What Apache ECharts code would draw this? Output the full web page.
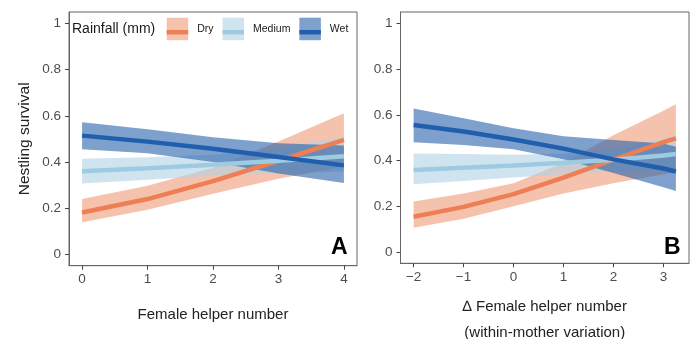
<!DOCTYPE html>
<html>
<head>
<meta charset="utf-8">
<script src="https://cdn.jsdelivr.net/npm/echarts@6/dist/echarts.min.js"></script>
<style>
  html, body { margin: 0; padding: 0; background: #fff; }
  #chart { width: 698px; height: 339px; }
</style>
</head>
<body>
<div id="chart"></div>
<script>
// Panel A: female helper number
const xA = [0, 1, 2, 3, 4];
const dryA = [0.181, 0.239, 0.317, 0.405, 0.496];
const dryLoA = [0.138, 0.193, 0.262, 0.327, 0.38];
const dryHiA = [0.239, 0.297, 0.375, 0.488, 0.611];
const medA = [0.359, 0.373, 0.388, 0.405, 0.425];
const medLoA = [0.306, 0.323, 0.34, 0.35, 0.358];
const medHiA = [0.414, 0.42, 0.431, 0.46, 0.51];
const wetA = [0.514, 0.488, 0.457, 0.421, 0.385];
const wetLoA = [0.455, 0.438, 0.40, 0.35, 0.309];
const wetHiA = [0.572, 0.542, 0.507, 0.481, 0.471];

// Panel B: delta female helper number (within-mother variation)
const xB = [-2, -1, 0, 1, 2, 3, 3.25];
const dryB = [0.154, 0.197, 0.253, 0.325, 0.404, 0.48, 0.497];
const dryLoB = [0.106, 0.145, 0.20, 0.255, 0.30, 0.34, 0.35];
const dryHiB = [0.22, 0.255, 0.30, 0.39, 0.51, 0.618, 0.646];
const medB = [0.358, 0.368, 0.378, 0.39, 0.403, 0.422, 0.428];
const medLoB = [0.296, 0.31, 0.326, 0.34, 0.352, 0.36, 0.362];
const medHiB = [0.431, 0.428, 0.425, 0.43, 0.45, 0.495, 0.509];
const wetB = [0.555, 0.527, 0.492, 0.452, 0.405, 0.365, 0.352];
const wetLoB = [0.48, 0.468, 0.449, 0.405, 0.345, 0.283, 0.267];
const wetHiB = [0.628, 0.585, 0.541, 0.506, 0.49, 0.474, 0.46];

const groups = ["Dry", "Medium", "Wet"];
const yTicks = [0, 0.2, 0.4, 0.6, 0.8, 1];
const xTicksA = [0, 1, 2, 3, 4];
const xTicksB = [-2, -1, 0, 1, 2, 3];

const lineColors = { Dry: "#EE7F55", Medium: "#9FCBE2", Wet: "#1F5FAE" };
const bandColors = {
  Dry: "rgba(238,153,118,0.6)",
  Medium: "rgba(177,210,230,0.6)",
  Wet: "rgba(40,97,170,0.6)",
};

const font = "'Liberation Sans', Arial, sans-serif";
const boxColor = "#666";

const chart = echarts.init(document.getElementById("chart"));

// ribbon drawn as one polygon from [x, lower, upper] rows
function bandSeries(name, xs, lo, hi, idx) {
  return {
    name: name,
    type: "custom",
    xAxisIndex: idx,
    yAxisIndex: idx,
    silent: true,
    encode: { x: 0, y: [1, 2] },
    data: xs.map((x, i) => [x, lo[i], hi[i]]),
    renderItem: (params, api) => {
      if (params.dataIndexInside !== 0) return null;
      const top = [];
      const bottom = [];
      for (let i = 0; i < params.dataInsideLength; i++) {
        const x = api.value(0, i);
        top.push(api.coord([x, api.value(2, i)]));
        bottom.unshift(api.coord([x, api.value(1, i)]));
      }
      return {
        type: "polygon",
        shape: { points: top.concat(bottom) },
        style: { fill: bandColors[name] },
      };
    },
  };
}

function lineSeries(name, xs, ys, idx) {
  return {
    name: name,
    type: "line",
    xAxisIndex: idx,
    yAxisIndex: idx,
    silent: true,
    showSymbol: false,
    data: xs.map((x, i) => [x, ys[i]]),
    lineStyle: { color: lineColors[name], width: 4.5 },
    itemStyle: { color: lineColors[name] },
  };
}

const panelA = {
  Dry: [dryA, dryLoA, dryHiA],
  Medium: [medA, medLoA, medHiA],
  Wet: [wetA, wetLoA, wetHiA],
};
const panelB = {
  Dry: [dryB, dryLoB, dryHiB],
  Medium: [medB, medLoB, medHiB],
  Wet: [wetB, wetLoB, wetHiB],
};

const series = [];
[[panelA, xA, 0], [panelB, xB, 1]].forEach(([panel, xs, idx]) => {
  groups.forEach((g) => {
    series.push(bandSeries(g, xs, panel[g][1], panel[g][2], idx));
    series.push(lineSeries(g, xs, panel[g][0], idx));
  });
});

const fmtNum = (v) => {
  const r = Math.round(v * 100) / 100;
  return r < 0 ? "\u2212" + Math.abs(r) : String(r);
};

function yAxis(idx, name) {
  return {
    type: "value",
    gridIndex: idx,
    min: -0.05,
    max: 1.05,
    name: name,
    nameLocation: "middle",
    nameGap: 36,
    nameTextStyle: { fontFamily: font, fontSize: 15.5, color: "#222" },
    splitLine: { show: false },
    axisLine: { show: true, onZero: false, lineStyle: { color: boxColor, width: 1 } },
    axisTick: { show: true, length: 4, customValues: yTicks, lineStyle: { color: "#444" } },
    axisLabel: {
      customValues: yTicks,
      formatter: fmtNum,
      margin: 8,
      fontFamily: font,
      fontSize: 13.5,
      color: "#4d4d4d",
    },
  };
}

function xAxis(idx, min, max, ticks, name, gap) {
  return {
    type: "value",
    gridIndex: idx,
    min: min,
    max: max,
    name: name,
    nameLocation: "middle",
    nameGap: gap,
    nameTextStyle: { fontFamily: font, fontSize: 15, color: "#222", lineHeight: 26 },
    splitLine: { show: false },
    axisLine: { show: true, onZero: false, lineStyle: { color: boxColor, width: 1 } },
    axisTick: { show: true, length: 4, customValues: ticks, lineStyle: { color: "#444" } },
    axisLabel: {
      customValues: ticks,
      formatter: fmtNum,
      margin: 7,
      fontFamily: font,
      fontSize: 13.5,
      color: "#4d4d4d",
    },
  };
}

const legendBands = groups.map((g) => ({ name: g, itemStyle: { color: bandColors[g] } }));
const legendLines = groups.map((g) => ({ name: g, itemStyle: { color: lineColors[g] } }));

const gridBase = {
  top: 12,
  show: true,
  borderColor: boxColor,
  borderWidth: 1,
  backgroundColor: "transparent",
  outerBoundsMode: "none",
  containLabel: false,
};

chart.setOption({
  animation: false,
  grid: [
    Object.assign({}, gridBase, { left: 69, width: 288, height: 253.7 }),
    Object.assign({}, gridBase, { left: 400.5, width: 288.5, height: 251.3 }),
  ],
  xAxis: [
    xAxis(0, -0.2, 4.2, xTicksA, "Female helper number", 36),
    xAxis(1, -2.2625, 3.5125, xTicksB, "\u2206 Female helper number\n(within-mother variation)", 31),
  ],
  yAxis: [yAxis(0, "Nestling survival"), yAxis(1, "")],
  title: [
    { text: "Rainfall (mm)", left: 72, top: 22, padding: 0,
      textStyle: { fontFamily: font, fontSize: 14, fontWeight: "normal", color: "#1a1a1a" } },
    { text: "A", left: 331, top: 236, padding: 0,
      textStyle: { fontFamily: font, fontSize: 23, fontWeight: "bold", color: "#000" } },
    { text: "B", left: 664, top: 236, padding: 0,
      textStyle: { fontFamily: font, fontSize: 23, fontWeight: "bold", color: "#000" } },
  ],
  legend: [
    {
      data: legendBands,
      icon: "rect",
      left: 166.7,
      top: 17.7,
      padding: 0,
      itemGap: 9,
      itemWidth: 21.5,
      itemHeight: 22.5,
      selectedMode: false,
      textStyle: { fontFamily: font, fontSize: 10.5, color: "#1a1a1a", padding: [0, 0, 0, 4] },
    },
    {
      data: legendLines,
      icon: "rect",
      left: 166.7,
      top: 26.7,
      padding: 0,
      itemGap: 9,
      itemWidth: 21.5,
      itemHeight: 4.5,
      selectedMode: false,
      textStyle: { fontFamily: font, fontSize: 10.5, lineHeight: 4.5, color: "rgba(0,0,0,0)", padding: [0, 0, 0, 4] },
    },
  ],
  series: series,
});

window.addEventListener("resize", () => chart.resize());
</script>
</body>
</html>
